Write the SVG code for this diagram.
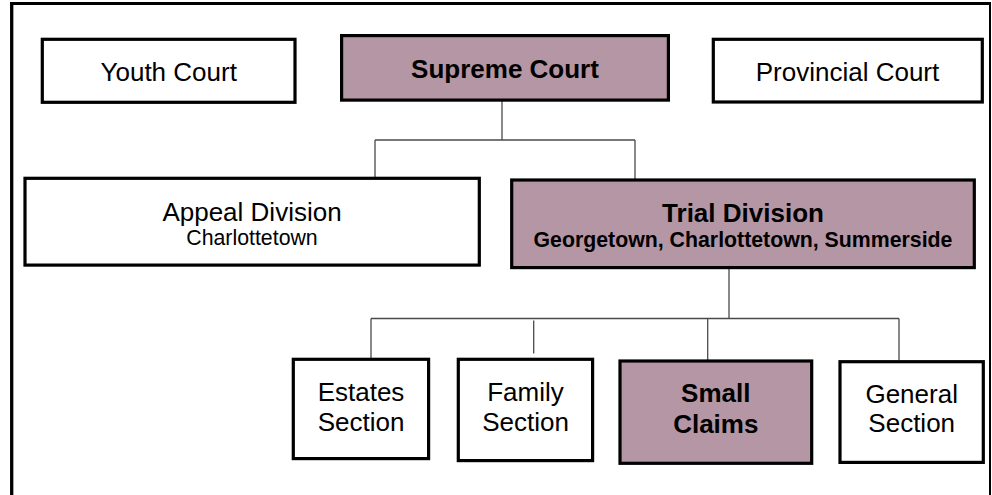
<svg xmlns="http://www.w3.org/2000/svg" width="992" height="495" viewBox="0 0 992 495">
<style>
.box{fill:#ffffff;stroke:#000000;stroke-width:3.2}
.hl{fill:#b596a4;stroke:#000000;stroke-width:3.2}
.t{font-family:"Liberation Sans",Arial,sans-serif;font-size:26px;fill:#000000;text-anchor:middle}
.b{font-weight:bold}
.s{font-size:21.3px}
.c{fill:none;stroke:#4a4a4a;stroke-width:1.3}
</style>
<rect x="0" y="0" width="992" height="495" fill="#ffffff"/>
<g id="frame" fill="none" stroke="#000000">
<line x1="11.7" y1="3.5" x2="11.7" y2="495" stroke-width="3.3"/>
<line x1="10" y1="3.5" x2="991" y2="3.5" stroke-width="3"/>
<line x1="990" y1="2" x2="990" y2="495" stroke-width="2"/>
</g>
<g id="connectors">
<line class="c" x1="502" y1="101" x2="502" y2="140"/>
<line class="c" x1="375" y1="140" x2="635" y2="140"/>
<line class="c" x1="375" y1="140" x2="375" y2="177"/>
<line class="c" x1="635" y1="140" x2="635" y2="179"/>
<line class="c" x1="729" y1="269" x2="729" y2="318.5"/>
<line class="c" x1="371" y1="318.5" x2="899" y2="318.5"/>
<line class="c" x1="371" y1="318.5" x2="371" y2="358"/>
<line class="c" x1="533.7" y1="320.5" x2="533.7" y2="353.5"/>
<line class="c" x1="707.7" y1="318.5" x2="707.7" y2="360"/>
<line class="c" x1="899" y1="318.5" x2="899" y2="360"/>
</g>
<g id="youth-court">
<rect class="box" x="42.3" y="39.3" width="252.7" height="63"/>
<text class="t" x="168.7" y="80.5">Youth Court</text>
</g>
<g id="supreme-court">
<rect class="hl" x="341.6" y="35.6" width="326.8" height="64.5"/>
<text class="t b" x="505" y="78">Supreme Court</text>
</g>
<g id="provincial-court">
<rect class="box" x="713.3" y="39.3" width="269" height="62.7"/>
<text class="t" x="847.5" y="80.5">Provincial Court</text>
</g>
<g id="appeal-division">
<rect class="box" x="25" y="178.3" width="454.3" height="86.8"/>
<text class="t" x="252" y="221">Appeal Division</text>
<text class="t s" x="252" y="245">Charlottetown</text>
</g>
<g id="trial-division">
<rect class="hl" x="511.7" y="180" width="462.6" height="87.6"/>
<text class="t b" x="743" y="221.7">Trial Division</text>
<text class="t b s" x="743" y="246.7">Georgetown, Charlottetown, Summerside</text>
</g>
<g id="estates-section">
<rect class="box" x="293.3" y="359.3" width="135.3" height="99.3"/>
<text class="t" x="361" y="400.7">Estates</text>
<text class="t" x="361" y="430.7">Section</text>
</g>
<g id="family-section">
<rect class="box" x="458.3" y="359.3" width="134.3" height="101.3"/>
<text class="t" x="525.5" y="400.7">Family</text>
<text class="t" x="525.5" y="430.7">Section</text>
</g>
<g id="small-claims">
<rect class="hl" x="620" y="361" width="191.7" height="102.3"/>
<text class="t b" x="715.8" y="401.7">Small</text>
<text class="t b" x="715.8" y="432.7">Claims</text>
</g>
<g id="general-section">
<rect class="box" x="840" y="361.7" width="143.3" height="100.7"/>
<text class="t" x="911.7" y="402.7">General</text>
<text class="t" x="911.7" y="431.7">Section</text>
</g>
</svg>
